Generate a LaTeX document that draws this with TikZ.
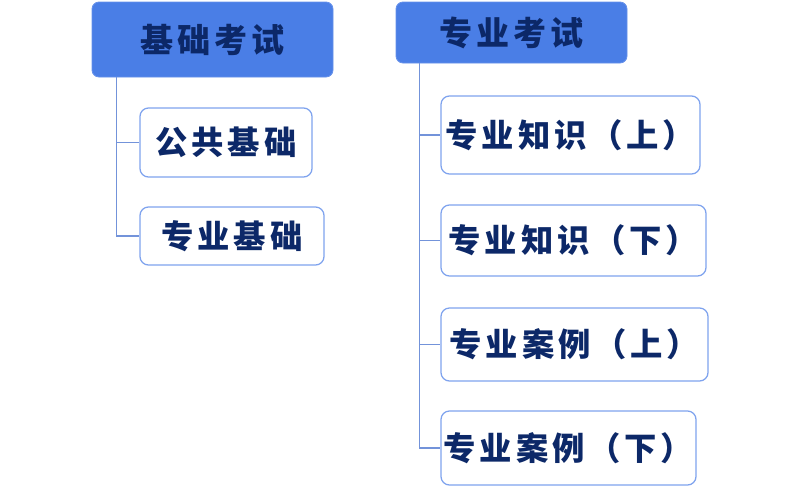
\documentclass[tikz,border=0pt]{standalone}
\usepackage{fontspec}
\newfontfamily\cjkfont[LetterSpace=12]{Noto Sans CJK SC}
\usetikzlibrary{positioning, calc}
\usepackage{xcolor}
\definecolor{cHead}{HTML}{4A7EE6}
\definecolor{cLine}{HTML}{7393DA}
\definecolor{cBorder}{HTML}{7FA3EE}
\definecolor{cText}{HTML}{0C2868}
\tikzset{
  headbox/.style={
    fill=cHead, draw=cHead!85!white, rounded corners=5pt,
    font=\cjkfont\bfseries\fontsize{23.5}{28}\selectfont, text=cText,
    inner sep=0pt, line width=0.6pt,
  },
  itembox/.style={
    draw=cBorder, fill=white, rounded corners=6pt,
    font=\cjkfont\bfseries\fontsize{23}{28}\selectfont, text=cText,
    inner sep=0pt, line width=0.9pt,
  },
  conn/.style={draw=cLine, line width=0.8pt},
}

\begin{document}
\begin{tikzpicture}
  \useasboundingbox (0,0) rectangle (20,-12.15);

  % Headers
  \node[headbox, minimum width=6.025cm, minimum height=1.875cm]
    (basic) at (5.3125,-0.9875) {基础考试};
  \node[headbox, minimum width=5.775cm, minimum height=1.525cm]
    (major) at (12.7875,-0.8125) {专业考试};

  % Left column
  \node[itembox, minimum width=4.3cm, minimum height=1.725cm]
    (gongji) at (5.65,-3.5625) {公共基础};
  \node[itembox, minimum width=4.6cm, minimum height=1.45cm]
    (zhuanji) at (5.8,-5.9) {专业基础};

  % Right column
  \node[itembox, minimum width=6.475cm, minimum height=1.95cm]
    (zhishiA) at (14.2625,-3.375) {专业知识（上）};
  \node[itembox, minimum width=6.625cm, minimum height=1.775cm]
    (zhishiB) at (14.3375,-6.0125) {专业知识（下）};
  \node[itembox, minimum width=6.675cm, minimum height=1.825cm]
    (anliA) at (14.3625,-8.6125) {专业案例（上）};
  \node[itembox, minimum width=6.375cm, minimum height=1.85cm]
    (anliB) at (14.2125,-11.2) {专业案例（下）};

  % Trunks
  \coordinate (tl) at ([xshift=0.625cm]basic.south west);
  \coordinate (tr) at ([xshift=0.6cm]major.south west);

  \draw[conn] (tl) |- (gongji.west);
  \draw[conn] (tl) |- (zhuanji.west);
  \draw[conn] (tr) |- (zhishiA.west);
  \draw[conn] (tr) |- (zhishiB.west);
  \draw[conn] (tr) |- (anliA.west);
  \draw[conn] (tr) |- (anliB.west);

\end{tikzpicture}
\end{document}
